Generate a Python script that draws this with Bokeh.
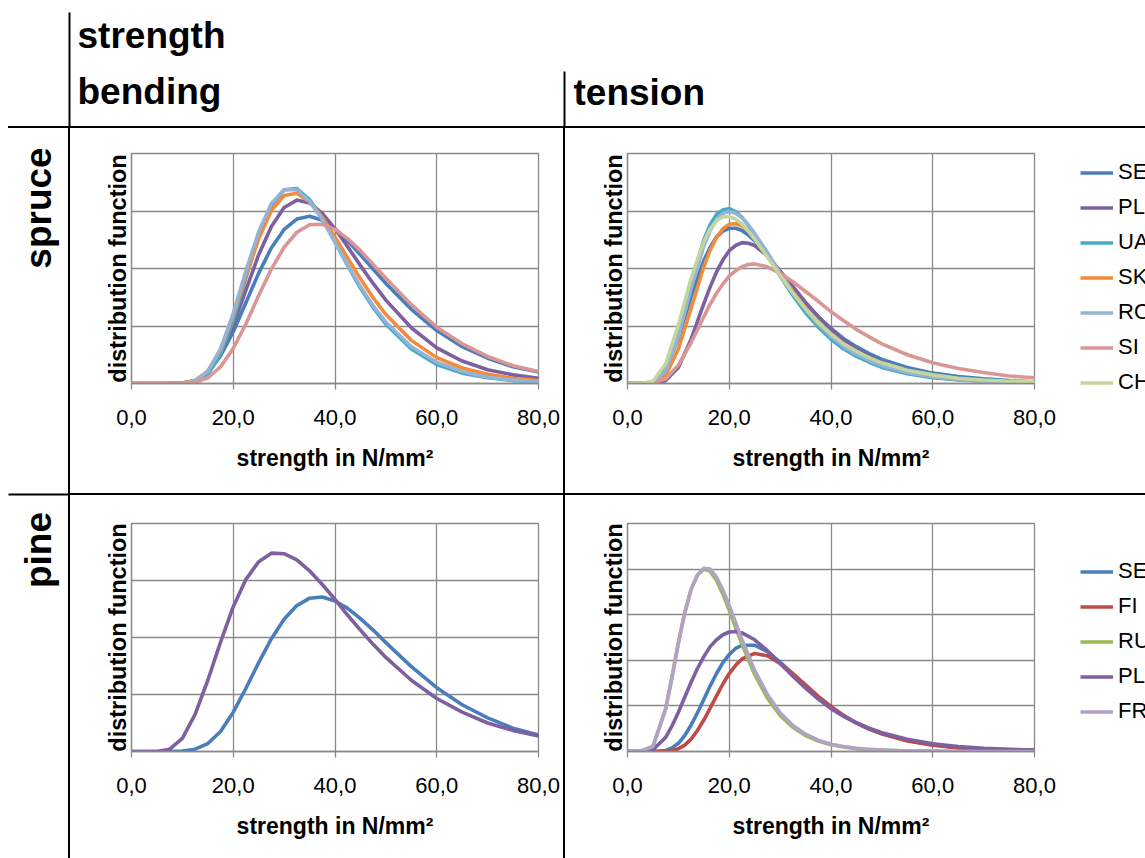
import math
from bokeh.plotting import figure
from bokeh.models import Range1d, FixedTicker, Legend, LegendItem, Spacer, ColumnDataSource
from bokeh.layouts import row, column
from bokeh.embed import file_html
from bokeh.resources import INLINE
from bokeh.core.properties import value

# ---------------- data ----------------
X_TICKS = [0, 20, 40, 60, 80]
X_TICK_LABELS = ["0,0", "20,0", "40,0", "60,0", "80,0"]

SPRUCE_SERIES = ["SE", "PL", "UA", "SK", "RO", "SI", "CH"]
PINE_SERIES = ["SE", "FI", "RU", "PL", "FR"]

# spruce - bending (no CH curve)
X_SB = [0, 2.5, 5, 7.5, 10, 12.5, 15, 17.5, 20, 22.5, 25, 27.5, 30, 32.5, 35,
        37.5, 40, 42.5, 45, 47.5, 50, 55, 60, 65, 70, 75, 80]
SB_SE = [0, 0, 0, 0, 0.01, 0.05, 0.19, 0.48, 0.90, 1.41, 1.92, 2.36, 2.68, 2.86, 2.91, 2.84, 2.69, 2.48, 2.24, 1.99, 1.74, 1.29, 0.92, 0.64, 0.44, 0.29, 0.20]
SB_PL = [0, 0, 0, 0, 0.00, 0.04, 0.18, 0.50, 1.01, 1.63, 2.24, 2.73, 3.06, 3.19, 3.14, 2.96, 2.69, 2.38, 2.05, 1.74, 1.45, 0.97, 0.62, 0.39, 0.24, 0.15, 0.09]
SB_UA = [0, 0, 0, 0, 0.00, 0.03, 0.16, 0.51, 1.10, 1.84, 2.55, 3.09, 3.37, 3.39, 3.20, 2.87, 2.46, 2.05, 1.66, 1.32, 1.03, 0.60, 0.33, 0.18, 0.10, 0.05, 0.03]
SB_SK = [0, 0, 0, 0, 0.01, 0.05, 0.22, 0.59, 1.19, 1.88, 2.52, 3.01, 3.27, 3.31, 3.16, 2.89, 2.55, 2.18, 1.82, 1.49, 1.20, 0.75, 0.45, 0.27, 0.16, 0.09, 0.05]
SB_RO = [0, 0, 0, 0, 0.00, 0.04, 0.21, 0.60, 1.22, 1.96, 2.64, 3.13, 3.37, 3.37, 3.17, 2.85, 2.46, 2.06, 1.69, 1.35, 1.07, 0.64, 0.37, 0.21, 0.11, 0.06, 0.03]
SB_SI = [0, 0, 0, 0, 0.00, 0.02, 0.10, 0.29, 0.61, 1.04, 1.53, 1.99, 2.37, 2.63, 2.76, 2.77, 2.68, 2.52, 2.31, 2.07, 1.83, 1.37, 0.98, 0.69, 0.47, 0.31, 0.21]

# spruce - tension
X_ST = [0, 2.5, 5, 7.5, 10, 12.5, 15, 16.25, 17.5, 18.75, 20, 21.25, 22.5, 23.75, 25, 27.5,
        30, 32.5, 35, 37.5, 40, 42.5, 45, 47.5, 50, 55, 60, 65, 70, 75, 80]
ST_SE = [0, 0, 0.02, 0.24, 0.79, 1.51, 2.14, 2.37, 2.55, 2.65, 2.70, 2.70, 2.66, 2.58, 2.48, 2.22, 1.94, 1.66, 1.40, 1.16, 0.96, 0.78, 0.64, 0.52, 0.42, 0.28, 0.18, 0.12, 0.08, 0.05, 0.03]
ST_PL = [0, 0, 0.00, 0.05, 0.28, 0.77, 1.39, 1.68, 1.94, 2.15, 2.31, 2.40, 2.45, 2.44, 2.40, 2.22, 1.96, 1.69, 1.41, 1.16, 0.94, 0.75, 0.60, 0.47, 0.37, 0.23, 0.14, 0.08, 0.05, 0.03, 0.02]
ST_UA = [0, 0, 0.02, 0.25, 0.89, 1.76, 2.50, 2.76, 2.94, 3.02, 3.04, 2.99, 2.89, 2.75, 2.59, 2.23, 1.87, 1.53, 1.23, 0.98, 0.77, 0.60, 0.47, 0.37, 0.28, 0.17, 0.10, 0.06, 0.04, 0.02, 0.01]
ST_SK = [0, 0, 0.01, 0.14, 0.60, 1.31, 2.03, 2.32, 2.54, 2.69, 2.77, 2.78, 2.74, 2.65, 2.54, 2.25, 1.92, 1.60, 1.31, 1.06, 0.84, 0.67, 0.52, 0.41, 0.32, 0.20, 0.12, 0.07, 0.04, 0.03, 0.02]
ST_RO = [0, 0, 0.02, 0.22, 0.82, 1.65, 2.39, 2.66, 2.85, 2.96, 2.99, 2.96, 2.88, 2.76, 2.61, 2.28, 1.92, 1.58, 1.28, 1.03, 0.82, 0.64, 0.51, 0.40, 0.31, 0.19, 0.12, 0.07, 0.04, 0.03, 0.02]
ST_SI = [0, 0, 0.01, 0.08, 0.32, 0.71, 1.16, 1.38, 1.57, 1.73, 1.87, 1.96, 2.03, 2.07, 2.08, 2.03, 1.92, 1.77, 1.60, 1.43, 1.25, 1.09, 0.94, 0.81, 0.69, 0.50, 0.36, 0.26, 0.19, 0.13, 0.10]
ST_CH = [0, 0, 0.04, 0.34, 1.02, 1.83, 2.47, 2.69, 2.83, 2.90, 2.90, 2.86, 2.77, 2.65, 2.51, 2.20, 1.88, 1.57, 1.30, 1.06, 0.86, 0.69, 0.56, 0.45, 0.36, 0.23, 0.15, 0.09, 0.06, 0.04, 0.03]

# pine - bending
X_PB = X_SB
PB_SE = [0, 0, 0, 0, 0.01, 0.04, 0.14, 0.35, 0.69, 1.11, 1.56, 1.98, 2.32, 2.56, 2.69, 2.71, 2.64, 2.51, 2.33, 2.13, 1.91, 1.49, 1.12, 0.82, 0.59, 0.41, 0.29]
PB_PL = [0, 0, 0.00, 0.04, 0.23, 0.65, 1.25, 1.92, 2.54, 3.02, 3.33, 3.48, 3.47, 3.36, 3.17, 2.93, 2.67, 2.39, 2.13, 1.88, 1.65, 1.25, 0.93, 0.69, 0.50, 0.37, 0.27]

# pine - tension
X_PT = [0, 2.5, 5, 7.5, 8.75, 10, 11.25, 12.5, 13.75, 15, 16.25, 17.5, 18.75, 20, 21.25, 22.5,
        25, 27.5, 30, 32.5, 35, 37.5, 40, 42.5, 45, 47.5, 50, 55, 60, 65, 70, 75, 80]
PT_SE = [0, 0, 0, 0.02, 0.08, 0.18, 0.35, 0.58, 0.85, 1.14, 1.44, 1.71, 1.95, 2.13, 2.26, 2.33, 2.33, 2.19, 1.96, 1.70, 1.44, 1.19, 0.97, 0.78, 0.62, 0.49, 0.39, 0.24, 0.15, 0.09, 0.05, 0.03, 0.02]
PT_FI = [0, 0, 0, 0.00, 0.02, 0.06, 0.14, 0.27, 0.46, 0.69, 0.95, 1.22, 1.48, 1.71, 1.89, 2.03, 2.15, 2.10, 1.93, 1.71, 1.46, 1.21, 0.99, 0.79, 0.63, 0.49, 0.39, 0.23, 0.14, 0.08, 0.05, 0.03, 0.02]
PT_RU = [0, 0, 0.11, 0.94, 1.64, 2.39, 3.05, 3.56, 3.87, 4.00, 3.95, 3.75, 3.45, 3.10, 2.72, 2.35, 1.69, 1.17, 0.79, 0.53, 0.35, 0.23, 0.15, 0.10, 0.06, 0.04, 0.03, 0.01, 0.01, 0, 0, 0, 0]
PT_PL = [0, 0, 0.04, 0.31, 0.56, 0.86, 1.19, 1.52, 1.82, 2.08, 2.30, 2.45, 2.56, 2.62, 2.63, 2.60, 2.45, 2.21, 1.93, 1.65, 1.39, 1.15, 0.94, 0.77, 0.63, 0.51, 0.41, 0.27, 0.17, 0.11, 0.07, 0.05, 0.03]
PT_FR = [0, 0, 0.11, 0.93, 1.62, 2.37, 3.03, 3.55, 3.87, 4.02, 4.00, 3.82, 3.54, 3.20, 2.83, 2.45, 1.78, 1.25, 0.85, 0.57, 0.38, 0.25, 0.16, 0.11, 0.07, 0.05, 0.03, 0.01, 0.01, 0, 0, 0, 0]

SPRUCE_COLORS = {"SE": "#4A7EBB", "PL": "#7D60A0", "UA": "#46AAC5", "SK": "#F38B3A",
                 "RO": "#95B3D7", "SI": "#D99694", "CH": "#C3D69B"}
PINE_COLORS = {"SE": "#4A7EBB", "FI": "#BE4B48", "RU": "#98B954", "PL": "#7D60A0", "FR": "#B3A2C7"}

# ---------------- layout (page coordinates, page margin is 0) ----------------
W, H = 1145, 858
FONT = "Liberation Sans"
GRID = "#8a8a8a"
LW = 3.6


def make_panel(width, height, borders, ymax, xs, names, data, colors):
    bl, br, bt, bb = borders
    p = figure(width=width, height=height, x_range=Range1d(0, 80), y_range=Range1d(0, ymax),
               min_border_left=bl, min_border_right=br, min_border_top=bt, min_border_bottom=bb,
               output_backend="svg", toolbar_location=None, title=None)
    p.background_fill_color = "white"
    p.border_fill_color = "white"
    p.outline_line_color = GRID
    p.outline_line_width = 1.3
    p.xgrid.ticker = FixedTicker(ticks=X_TICKS)
    p.ygrid.ticker = FixedTicker(ticks=list(range(int(ymax) + 1)))
    for g in (p.xgrid, p.ygrid):
        g.grid_line_color = GRID
        g.grid_line_width = 1.3
    xa = p.xaxis
    xa.ticker = FixedTicker(ticks=X_TICKS)
    xa.major_label_overrides = dict(zip(X_TICKS, X_TICK_LABELS))
    xa.major_label_text_font = FONT
    xa.major_label_text_font_size = "22px"
    xa.major_label_text_color = "black"
    xa.major_label_standoff = 20
    xa.major_tick_out = 6
    xa.major_tick_in = 0
    xa.major_tick_line_color = GRID
    xa.major_tick_line_width = 1.3
    xa.minor_tick_line_color = None
    xa.axis_line_color = GRID
    xa.axis_line_width = 1.3
    xa.axis_label = "strength in N/mm²"
    xa.axis_label_text_font = FONT
    xa.axis_label_text_font_style = "bold"
    xa.axis_label_text_font_size = "23px"
    xa.axis_label_text_color = "black"
    xa.axis_label_standoff = 17
    ya = p.yaxis
    ya.ticker = FixedTicker(ticks=[])
    ya.major_label_standoff = 0
    ya.major_tick_out = 0
    ya.major_tick_in = 0
    ya.major_tick_line_color = None
    ya.minor_tick_line_color = None
    ya.axis_line_color = GRID
    ya.axis_line_width = 1.3
    ya.axis_label = "distribution function"
    ya.axis_label_text_font = FONT
    ya.axis_label_text_font_style = "bold"
    ya.axis_label_text_font_size = "23.5px"
    ya.axis_label_text_color = "black"
    ya.axis_label_standoff = 1

    src = ColumnDataSource(dict(strength=xs, **{n: data[n] for n in names}))
    for n in names:
        p.line(x="strength", y=n, source=src, line_color=colors[n], line_width=LW,
               line_join="round", line_cap="round")
    return p


def blank(width, height):
    f = figure(width=width, height=height, x_range=Range1d(0, width), y_range=Range1d(0, height),
               min_border=0, x_axis_type=None, y_axis_type=None, output_backend="svg",
               toolbar_location=None, title=None)
    f.outline_line_color = None
    f.background_fill_color = "white"
    f.border_fill_color = "white"
    return f


def legend_box(width, height, names, colors, loc):
    f = blank(width, height)
    items = []
    for n in names:
        r = f.line(x=[float("nan")], y=[float("nan")], line_color=colors[n], line_width=LW)
        items.append(LegendItem(label=n, renderers=[r]))
    lg = Legend(items=items, location=loc)
    lg.label_text_font = FONT
    lg.label_text_font_size = "22px"
    lg.label_text_color = "black"
    lg.glyph_width = 33
    lg.glyph_height = 35
    lg.label_height = 35
    lg.label_standoff = 5
    lg.spacing = 0
    lg.padding = 0
    lg.margin = 0
    lg.border_line_color = None
    lg.background_fill_alpha = 0
    f.add_layout(lg)
    return f


sb_data = dict(SE=SB_SE, PL=SB_PL, UA=SB_UA, SK=SB_SK, RO=SB_RO, SI=SB_SI)
st_data = dict(SE=ST_SE, PL=ST_PL, UA=ST_UA, SK=ST_SK, RO=ST_RO, SI=ST_SI, CH=ST_CH)
pb_data = dict(SE=PB_SE, PL=PB_PL)
pt_data = dict(SE=PT_SE, FI=PT_FI, RU=PT_RU, PL=PT_PL, FR=PT_FR)

HDR_H = 126
ROW1_H = 493 - 128
ROW2_H = 858 - 495
BODY_H = ROW1_H + 2 + ROW2_H
LABEL_W = 68
LEFT_W = 563 - 70
RIGHT_W = 1070 - 565
LEG_W = W - 1070

sb = make_panel(LEFT_W, ROW1_H, (61, 25, 25, 110), 4, X_SB, ["SE", "PL", "UA", "SK", "RO", "SI"], sb_data, SPRUCE_COLORS)
st = make_panel(RIGHT_W, ROW1_H, (62, 36, 25, 110), 4, X_ST, SPRUCE_SERIES, st_data, SPRUCE_COLORS)
pb = make_panel(LEFT_W, ROW2_H, (61, 25, 28, 107), 4, X_PB, ["SE", "PL"], pb_data, PINE_COLORS)
pt = make_panel(RIGHT_W, ROW2_H, (62, 36, 28, 107), 5, X_PT, PINE_SERIES, pt_data, PINE_COLORS)

# header: titles and the upper parts of the vertical rules
hdr = blank(W, HDR_H)
hdr.text(x=[77, 77, 573], y=[HDR_H - 34.5, HDR_H - 90.5, HDR_H - 91.5],
         text=["strength", "bending", "tension"], text_font=value(FONT), text_font_style="bold",
         text_font_size="37px", text_align="left", text_baseline="middle", text_color="black")
hdr.segment(x0=[69, 564], y0=[0, 0], x1=[69, 564], y1=[HDR_H - 12, HDR_H - 71],
            line_color="black", line_width=2)

# left column: wood species labels and the left part of the middle rule
side = blank(LABEL_W, BODY_H)
side.text(x=[38, 38], y=[BODY_H - (207.5 - 128), BODY_H - (549.5 - 128)], text=["spruce", "pine"],
          angle=math.pi / 2, text_font=value(FONT), text_font_style="bold", text_font_size="37px",
          text_align="center", text_baseline="middle", text_color="black")
side.segment(x0=[8], y0=[BODY_H - (494 - 128)], x1=[LABEL_W], y1=[BODY_H - (494 - 128)],
             line_color="black", line_width=2)

# right column: the two legends
leg_sp = legend_box(LEG_W, ROW1_H, SPRUCE_SERIES, SPRUCE_COLORS, (10, 493 - 399.5))
leg_pi = legend_box(LEG_W, ROW2_H, PINE_SERIES, PINE_COLORS, (10, 858 - 728.5))


def black(w, h):
    return Spacer(width=w, height=h, styles={"background-color": "black"})


panels = column(
    row(sb, black(2, ROW1_H), st),
    black(1070 - 70, 2),
    row(pb, black(2, ROW2_H), pt),
)
legends = column(leg_sp, black(LEG_W, 2), leg_pi)

layout = column(
    hdr,
    row(Spacer(width=8, height=2), black(W - 8, 2)),
    row(side, black(2, BODY_H), panels, legends),
)

open("out.html", "w").write(file_html(layout, INLINE))
